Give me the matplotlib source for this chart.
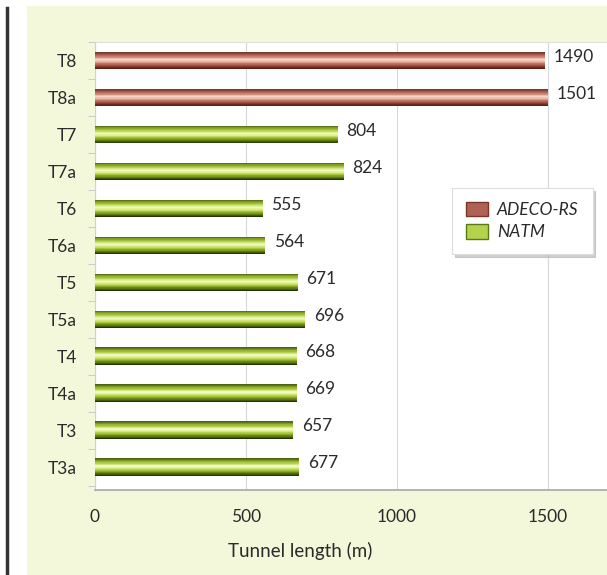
import matplotlib.pyplot as plt
import matplotlib.patches as mpatches
from matplotlib.colors import to_rgb
import numpy as np

# data
tunnels = ['T8', 'T8a', 'T7', 'T7a', 'T6', 'T6a', 'T5', 'T5a', 'T4', 'T4a', 'T3', 'T3a']
lengths = [1490, 1501, 804, 824, 555, 564, 671, 696, 668, 669, 657, 677]
method = ['ADECO-RS', 'ADECO-RS', 'NATM', 'NATM', 'NATM', 'NATM',
          'NATM', 'NATM', 'NATM', 'NATM', 'NATM', 'NATM']

# gradient stops (bottom -> top of each bar)
grad = {
    'ADECO-RS': ['#4a1a12', '#8a3c30', '#b8685a', '#e8b4a4', '#f6dccf', '#c88070', '#a85a4c', '#6e3024'],
    'NATM': ['#263408', '#5e7c12', '#9cbc2c', '#d8ec80', '#f4fcc8', '#b8d450', '#8cac28', '#4e6410'],
}

plt.rcParams['font.family'] = ['Lato', 'DejaVu Sans']
txt = '#2a2a2a'
fs = 12.5

fig = plt.figure(figsize=(6.07, 5.75), dpi=100)
fig.patch.set_facecolor('white')

# page background panel and the dark rule on the left
fig.patches.append(mpatches.Rectangle((27 / 607, 0), 1, 1 - 6 / 575, transform=fig.transFigure,
                                      facecolor='#f4f8da', edgecolor='none', zorder=-10))
fig.add_artist(plt.Line2D([7 / 607, 7 / 607], [0, 1 - 8 / 575], transform=fig.transFigure,
                          color='#333333', lw=2.5, zorder=-5))

ax = fig.add_axes([95 / 607, 1 - 490 / 575, 1 - 95 / 607, (490 - 42) / 575])
ax.set_facecolor('white')

y = np.arange(len(tunnels))[::-1]
h = 0.47
nstrip = 30


def interp_colors(stops, n):
    rgb = np.array([to_rgb(c) for c in stops])
    xs = np.linspace(0, 1, len(stops))
    t = np.linspace(0, 1, n)
    return [tuple(np.interp(tt, xs, rgb[:, k]) for k in range(3)) for tt in t]


for m in ['ADECO-RS', 'NATM']:
    idx = [i for i, mm in enumerate(method) if mm == m]
    vals = np.array([lengths[i] for i in idx])
    ys = y[idx]
    cols = interp_colors(grad[m], nstrip)
    for k in range(nstrip):
        off = -h / 2 + (k + 0.5) * h / nstrip
        ax.barh(ys + off, vals, height=h / nstrip * 1.05, color=cols[k], lw=0, zorder=3)

for yy, v in zip(y, lengths):
    ax.text(v + 28, yy + 0.1, str(v), va='center', ha='left', fontsize=fs, color=txt)

ax.set_xlim(0, 1695)
ax.set_ylim(-0.62, len(tunnels) - 0.5)
ax.set_xticks([0, 500, 1000, 1500])
ax.xaxis.grid(True, color='#d4d8dc', lw=0.8)
ax.set_axisbelow(True)
ax.tick_params(axis='x', length=0, pad=14, labelsize=fs, labelcolor=txt)
ax.set_yticks(y)
ax.set_yticklabels(tunnels)
ax.set_yticks(np.arange(len(tunnels) + 1) - 0.5, minor=True)
ax.tick_params(axis='y', which='major', length=0, pad=13, labelsize=fs, labelcolor=txt)
ax.tick_params(axis='y', which='minor', length=5, color='#c4c4c4')
for s in ax.spines.values():
    s.set_visible(False)
ax.spines['bottom'].set_visible(True)
ax.spines['bottom'].set_color('#a8a8a8')
ax.spines['bottom'].set_linewidth(1.2)
ax.spines['left'].set_visible(True)
ax.spines['left'].set_color('#d0d0d0')
ax.spines['top'].set_visible(True)
ax.spines['top'].set_color('#e0e0e0')
ax.set_xlabel('Tunnel length (m)', fontsize=13.5, color=txt, labelpad=10)
ax.xaxis.set_label_coords(0.40, -0.115)

handles = [mpatches.Patch(facecolor='#b06254', edgecolor='#7a3428', label='ADECO-RS'),
           mpatches.Patch(facecolor='#b4d24c', edgecolor='#5a7a14', label='NATM')]
leg = ax.legend(handles=handles, loc='upper left', bbox_to_anchor=(0.697, 0.674),
                prop={'style': 'italic', 'size': fs}, frameon=True, fancybox=False,
                shadow={'color': '#b0b0b0', 'alpha': 0.6}, edgecolor='#dddddd',
                handlelength=1.3, handleheight=0.9, borderpad=0.8, labelspacing=0.35,
                handletextpad=0.5, borderaxespad=0)
leg.get_frame().set_linewidth(0.8)
for t in leg.get_texts():
    t.set_color(txt)

fig.savefig('out.png', dpi=100)
